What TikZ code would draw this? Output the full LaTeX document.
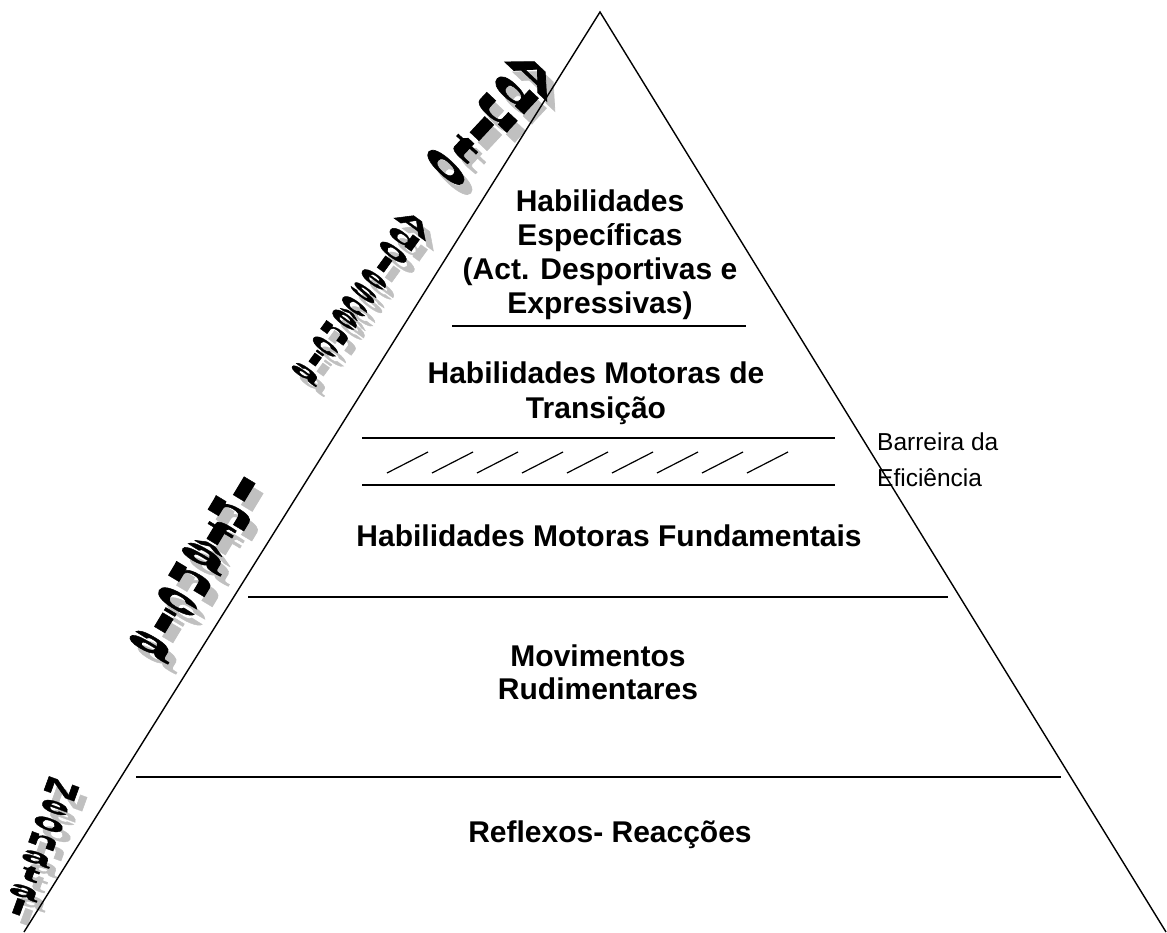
\documentclass[tikz,border=0pt]{standalone}
\usepackage{fontspec}
\setmainfont{Liberation Sans}
\newfontfamily\wafont[FakeBold=1.2]{Liberation Sans Bold}
\definecolor{shadowgray}{RGB}{192,192,192}
\tikzset{
  edge/.style={line width=1.4pt, black},
  rule/.style={line width=1.4pt, black},
  hatch/.style={line width=1.2pt, black},
  lbl/.style={font=\fontsize{30}{34}\selectfont\bfseries, inner sep=0pt, anchor=base},
  note/.style={font=\fontsize{24.5}{30}\selectfont, inner sep=0pt, anchor=base west},
  wabase/.style={font=\fontsize{24}{20}\wafont, align=center, inner sep=0pt, transform shape,
    execute at begin node={\lineskiplimit=-100pt}},
  wafg/.style={wabase, text=black},
  wabg/.style={wabase, text=shadowgray},
}
% vertical (stacked) word art: #1 name, #2 x, #3 y, #4-#7 matrix, #8 letters
\newcommand\wordart[8]{%
  \begin{scope}[shift={(#2+8,#3+10)}]
    \node[wabg, cm={#4,#5,#6,#7,(0,0)}] (#1s) at (0,0) {#8};
  \end{scope}
  \begin{scope}[shift={(#2,#3)}]
    \node[wafg, cm={#4,#5,#6,#7,(0,0)}] (#1) at (0,0) {#8};
  \end{scope}}
\begin{document}
\begin{tikzpicture}[x=1pt, y=-1pt]
\useasboundingbox (0,0) rectangle (1167,932);
\clip (0,0) rectangle (1167,932);
% word art labels
\wordart{adulto}{490}{120}{2.632}{-2.454}{0.853}{0.914}{A\\d\\u\\l\\t\\o}
\wordart{adol}{360}{298}{1.955}{-1.421}{0.488}{0.671}{A\\d\\o\\l\\e\\s\\c\\ê\\n\\c\\i\\a}
\wordart{inf}{198}{566}{3.085}{-1.854}{0.659}{1.097}{I\\n\\f\\â\\n\\c\\i\\a}
\wordart{neo}{40}{848}{2.115}{-0.769}{0.308}{0.846}{N\\e\\o\\n\\a\\t\\a\\l}
% triangle
\coordinate (apex) at (600,12);
\coordinate (bl) at (24,932);
\coordinate (br) at (1166,932);
\draw[edge] (bl) -- (apex) -- (br);
% horizontal rules
\coordinate (r1a) at (452,326); \coordinate (r1b) at (746,326);
\coordinate (r2a) at (362,438); \coordinate (r2b) at (835,438);
\coordinate (r3a) at (362,485); \coordinate (r3b) at (835,485);
\coordinate (r4a) at (248,597); \coordinate (r4b) at (948,597);
\coordinate (r5a) at (136,777); \coordinate (r5b) at (1061,777);
\draw[rule] (r1a) -- (r1b);
\draw[rule] (r2a) -- (r2b);
\draw[rule] (r3a) -- (r3b);
\draw[rule] (r4a) -- (r4b);
\draw[rule] (r5a) -- (r5b);
% hatching
\foreach \i in {0,...,8}{
  \coordinate (h\i a) at ({387+45*\i},473);
  \coordinate (h\i b) at ({428+45*\i},452);
  \draw[hatch] (h\i a) -- (h\i b);
}
% labels
\node[lbl] (esp1) at (600,211) {Habilidades};
\node[lbl] (esp2) at (600,245) {Específicas};
\node[lbl] (esp3) at (600,279) {(Act. Desportivas e};
\node[lbl] (esp4) at (600,313) {Expressivas)};
\node[lbl] (trans1) at (596,383) {Habilidades Motoras de};
\node[lbl] (trans2) at (596,418) {Transição};
\node[lbl] (fund) at (609,546) {Habilidades Motoras Fundamentais};
\node[lbl] (rud1) at (598,666) {Movimentos};
\node[lbl] (rud2) at (598,699) {Rudimentares};
\node[lbl] (refl) at (610,842) {Reflexos- Reacções};
\node[note] (barr1) at (877,450) {Barreira da};
\node[note] (barr2) at (877,486) {Eficiência};
\end{tikzpicture}
\end{document}
